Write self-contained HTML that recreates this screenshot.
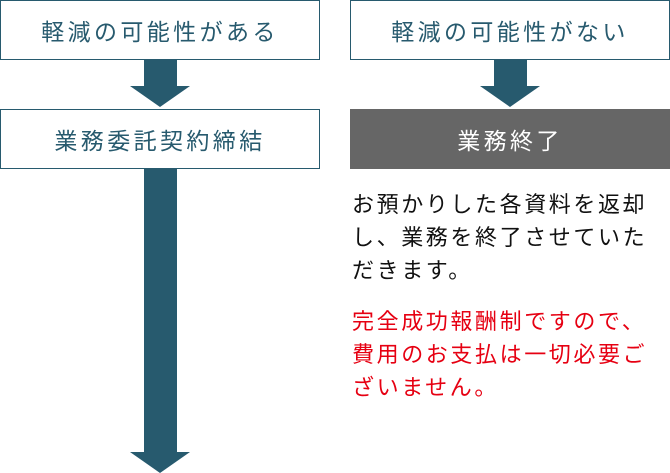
<!DOCTYPE html>
<html><head><meta charset="utf-8"><style>
body{margin:0;width:670px;height:473px;background:#fff;position:relative;overflow:hidden;font-family:"Liberation Sans","Noto Sans CJK JP",sans-serif}
.box{position:absolute;box-sizing:border-box;border:1px solid #275a6e;color:#275a6e;font-size:23px;display:flex;align-items:center;justify-content:center;letter-spacing:3.4px}
.t{position:absolute;left:352px;font-size:22px;line-height:33px;width:300px;letter-spacing:2.6px}
</style></head><body>
<div class="box" style="left:0;top:0;width:320px;height:60px">軽減の可能性がある</div>
<div class="box" style="left:350px;top:0;width:320px;height:60px">軽減の可能性がない</div>
<div class="box" style="left:0;top:109px;width:320px;height:60px">業務委託契約締結</div>
<div class="box" style="left:350px;top:109px;width:320px;height:60px;background:#666;border-color:#666;color:#fff">業務終了</div>
<svg style="position:absolute;left:0;top:0" width="670" height="473">
<path d="M144 60H177V86H190L160 107L130 86H144Z" fill="#275a6e"/>
<path d="M494 60H527V86H540L510 107L480 86H494Z" fill="#275a6e"/>
<path d="M144 169H177V452H190L160 473L130 452H144Z" fill="#275a6e"/>
</svg>
<div class="t" style="top:188px;color:#111">お預かりした各資料を返却し、業務を終了させていただきます。</div>
<div class="t" style="top:305px;color:#e60012">完全成功報酬制ですので、費用のお支払は一切必要ございません。</div>
</body></html>
